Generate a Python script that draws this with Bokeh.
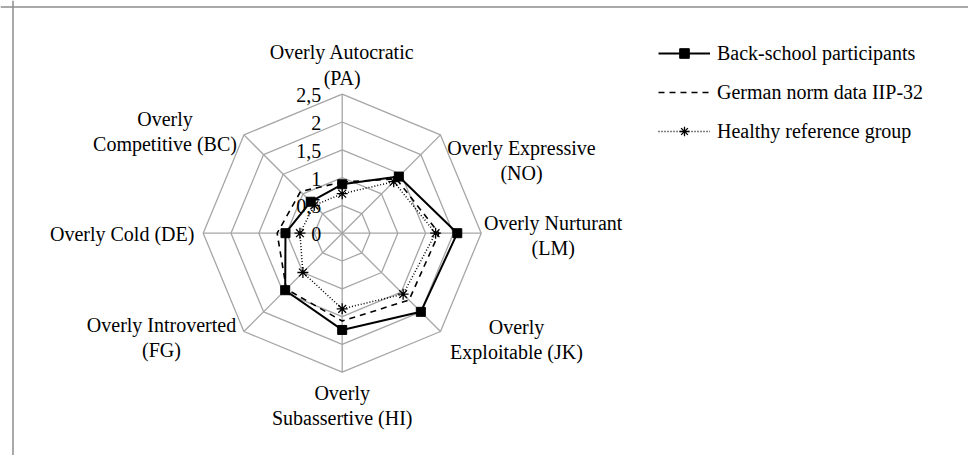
import numpy as np
from bokeh.plotting import figure
from bokeh.models import Range1d, Span, Legend, LegendItem, ColumnDataSource
from bokeh.core.properties import value
from bokeh.embed import file_html
from bokeh.resources import INLINE

# ---- data ----
categories = ["PA", "NO", "LM", "JK", "HI", "FG", "DE", "BC"]
back_school = [0.88, 1.44, 2.07, 2.00, 1.74, 1.45, 1.02, 0.80]
german_norm = [0.92, 1.38, 1.74, 1.70, 1.58, 1.42, 1.17, 1.06]
healthy_ref = [0.71, 1.31, 1.68, 1.55, 1.36, 1.00, 0.76, 0.71]
ring_values = [0.5, 1.0, 1.5, 2.0, 2.5]
tick_values = [0, 0.5, 1.0, 1.5, 2.0, 2.5]
tick_labels = ["0", "0,5", "1", "1,5", "2", "2,5"]
series_names = ["Back-school participants", "German norm data IIP-32", "Healthy reference group"]

# category label lines: (category index, text, x_offset px, y_offset px)
label_lines = [
    (0, "Overly Autocratic", 0, -41.7), (0, "(PA)", 0, -16.2),
    (1, "Overly Expressive", 81, 12.6), (1, "(NO)", 81, 37.6),
    (2, "Overly Nurturant", 72, -10.7), (2, "(LM)", 72, 14.3),
    (3, "Overly", 76, -4), (3, "Exploitable (JK)", 76, 21),
    (4, "Overly", 0, 20.3), (4, "Subassertive (HI)", 0, 45.3),
    (5, "Overly Introverted", -82.4, -6), (5, "(FG)", -82.4, 19),
    (6, "Overly Cold (DE)", -81, 0.3),
    (7, "Overly", -78.9, -16.4), (7, "Competitive (BC)", -78.9, 8.6),
]

# ---- geometry ----
W, H = 968, 455
S = 139 / 2.5           # px per unit
CX, CY = 341.7, 232.7   # centre in figure px (from left, from top)
FONT_NAME = "Liberation Serif"
FONT = value(FONT_NAME)
GRID = "#a6a6a6"

n = len(categories)
ang = np.pi / 2 - np.arange(n) * 2 * np.pi / n   # start top, clockwise
cosa, sina = np.cos(ang), np.sin(ang)

def closed(vals):
    v = np.asarray(vals, dtype=float)
    xs = v * cosa
    ys = v * sina
    return np.append(xs, xs[0]), np.append(ys, ys[0]), xs, ys

p = figure(width=W, height=H, output_backend="svg", toolbar_location=None,
           x_axis_location=None, y_axis_location=None, min_border=0,
           x_range=Range1d(-CX / S, (W - CX) / S),
           y_range=Range1d(-(H - CY) / S, CY / S))
p.grid.visible = False
p.outline_line_color = None
p.background_fill_color = "white"

# frame lines (left and top of the chart box)
p.add_layout(Span(location=(12.5 - CX) / S, dimension="height", line_color="#8c8c8c", line_width=1.5))
p.add_layout(Span(location=(CY - 6.5) / S, dimension="width", line_color="#8c8c8c", line_width=1.5))

# rings
for r in ring_values:
    xs, ys, _, _ = closed([r] * n)
    p.line(xs, ys, line_color=GRID, line_width=1.3)
# spokes
rmax = max(ring_values)
for i in range(n):
    p.line([0, rmax * cosa[i]], [0, rmax * sina[i]], line_color=GRID, line_width=1.3)

# radial tick labels
p.text(x=[0] * len(tick_values), y=tick_values, text=tick_labels, x_offset=-21, y_offset=1,
       text_font=FONT, text_font_size="20px", text_align="right", text_baseline="middle",
       text_color="black")

# category labels
lx = [rmax * cosa[i] for i, _, _, _ in label_lines]
ly = [rmax * sina[i] for i, _, _, _ in label_lines]
src = ColumnDataSource(dict(x=lx, y=ly, t=[l[1] for l in label_lines],
                            xo=[l[2] for l in label_lines], yo=[l[3] for l in label_lines]))
p.text(x="x", y="y", text="t", x_offset="xo", y_offset="yo", source=src,
       text_font=FONT, text_font_size="20px", text_align="center", text_baseline="middle",
       text_color="black")

# series
bx, by, bpx, bpy = closed(back_school)
gx, gy, _, _ = closed(german_norm)
hx, hy, hpx, hpy = closed(healthy_ref)

r_g = p.line(gx, gy, line_color="black", line_width=1.6, line_dash="6 5")
r_h = p.line(hx, hy, line_color="black", line_width=1.5, line_dash="1 2")
r_hm = p.scatter(hpx, hpy, marker="asterisk", size=11, line_color="black", line_width=1.3)
r_b = p.line(bx, by, line_color="black", line_width=2)
r_bm = p.scatter(bpx, bpy, marker="square", size=9, fill_color="black", line_color="black")

legend = Legend(items=[
    LegendItem(label=series_names[0], renderers=[r_b, r_bm]),
    LegendItem(label=series_names[1], renderers=[r_g]),
    LegendItem(label=series_names[2], renderers=[r_h, r_hm]),
], location=(658, H - 143), glyph_width=52, glyph_height=24, label_height=24,
    label_standoff=7, spacing=15, padding=0, margin=0,
    label_text_font=FONT_NAME, label_text_font_size="20px", label_text_color="black",
    border_line_color=None, background_fill_alpha=0)
p.add_layout(legend)

open("out.html", "w").write(file_html(p, INLINE))
